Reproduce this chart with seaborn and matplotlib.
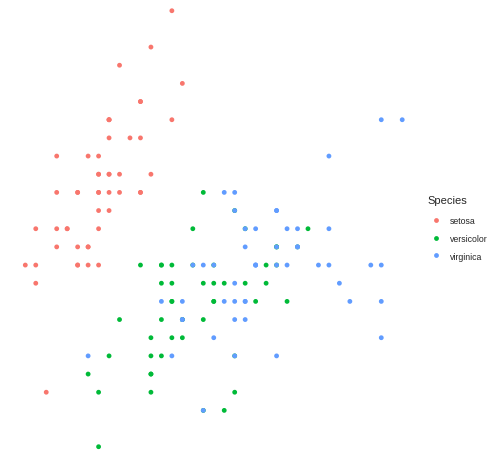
import matplotlib
matplotlib.use("Agg")
import matplotlib.pyplot as plt
import seaborn as sns
import pandas as pd

species_names = ["setosa", "versicolor", "virginica"]
palette_colors = ["#F8766D", "#00BA38", "#619CFF"]

setosa_length = [5.1,4.9,4.7,4.6,5.0,5.4,4.6,5.0,4.4,4.9,5.4,4.8,4.8,4.3,5.8,5.7,5.4,5.1,5.7,5.1,
                 5.4,5.1,4.6,5.1,4.8,5.0,5.0,5.2,5.2,4.7,4.8,5.4,5.2,5.5,4.9,5.0,5.5,4.9,4.4,5.1,
                 5.0,4.5,4.4,5.0,5.1,4.8,5.1,4.6,5.3,5.0]
setosa_width = [3.5,3.0,3.2,3.1,3.6,3.9,3.4,3.4,2.9,3.1,3.7,3.4,3.0,3.0,4.0,4.4,3.9,3.5,3.8,3.8,
                3.4,3.7,3.6,3.3,3.4,3.0,3.4,3.5,3.4,3.2,3.1,3.4,4.1,4.2,3.1,3.2,3.5,3.6,3.0,3.4,
                3.5,2.3,3.2,3.5,3.8,3.0,3.8,3.2,3.7,3.3]
versicolor_length = [7.0,6.4,6.9,5.5,6.5,5.7,6.3,4.9,6.6,5.2,5.0,5.9,6.0,6.1,5.6,6.7,5.6,5.8,6.2,5.6,
                     5.9,6.1,6.3,6.1,6.4,6.6,6.8,6.7,6.0,5.7,5.5,5.5,5.8,6.0,5.4,6.0,6.7,6.3,5.6,5.5,
                     5.5,6.1,5.8,5.0,5.6,5.7,5.7,6.2,5.1,5.7]
versicolor_width = [3.2,3.2,3.1,2.3,2.8,2.8,3.3,2.4,2.9,2.7,2.0,3.0,2.2,2.9,2.9,3.1,3.0,2.7,2.2,2.5,
                    3.2,2.8,2.5,2.8,2.9,3.0,2.8,3.0,2.9,2.6,2.4,2.4,2.7,2.7,3.0,3.4,3.1,2.3,3.0,2.5,
                    2.6,3.0,2.6,2.3,2.7,3.0,2.9,2.9,2.5,2.8]
virginica_length = [6.3,5.8,7.1,6.3,6.5,7.6,4.9,7.3,6.7,7.2,6.5,6.4,6.8,5.7,5.8,6.4,6.5,7.7,7.7,6.0,
                    6.9,5.6,7.7,6.3,6.7,7.2,6.2,6.1,6.4,7.2,7.4,7.9,6.4,6.3,6.1,7.7,6.3,6.4,6.0,6.9,
                    6.7,6.9,5.8,6.8,6.7,6.7,6.3,6.5,6.2,5.9]
virginica_width = [3.3,2.7,3.0,2.9,3.0,3.0,2.5,2.9,2.5,3.6,3.2,2.7,3.0,2.5,2.8,3.2,3.0,3.8,2.6,2.2,
                   3.2,2.8,2.8,2.7,3.3,3.2,2.8,3.0,2.8,3.0,2.8,3.8,2.8,2.8,2.6,3.0,3.4,3.1,3.0,3.1,
                   3.1,3.1,2.7,3.2,3.3,3.0,2.5,3.0,3.4,3.0]

df = pd.DataFrame({
    "Sepal.Length": setosa_length + versicolor_length + virginica_length,
    "Sepal.Width": setosa_width + versicolor_width + virginica_width,
    "Species": ["setosa"] * 50 + ["versicolor"] * 50 + ["virginica"] * 50,
})

sns.set_style("white")
plt.rcParams["font.family"] = ["Liberation Sans", "DejaVu Sans"]

W, H = 498, 460
fig = plt.figure(figsize=(W / 100, H / 100), dpi=100)
ax = fig.add_axes([0, 0, 421 / W, 1])
sns.scatterplot(data=df, x="Sepal.Length", y="Sepal.Width", hue="Species",
                hue_order=species_names, palette=palette_colors,
                s=12, linewidth=0, ax=ax, legend=True)
ax.set_xlim(4.0584, 8.0794)
ax.set_ylim(1.9284 + 0.004, 4.4606 + 0.004)
ax.set_axis_off()

handles, labels = ax.get_legend_handles_labels()
ax.get_legend().remove()
fig.text(427 / W, 1 - 201 / H, "Species", fontsize=8, ha="left", va="center")
leg = fig.legend(handles, labels, loc="upper left",
                 bbox_to_anchor=(430 / W, 1 - 217 / H), frameon=False,
                 fontsize=6.3, borderpad=0, borderaxespad=0,
                 handlelength=1.3, handletextpad=0.98, labelspacing=1.0,
                 markerscale=1.0)

fig.savefig("out.png", dpi=100)
